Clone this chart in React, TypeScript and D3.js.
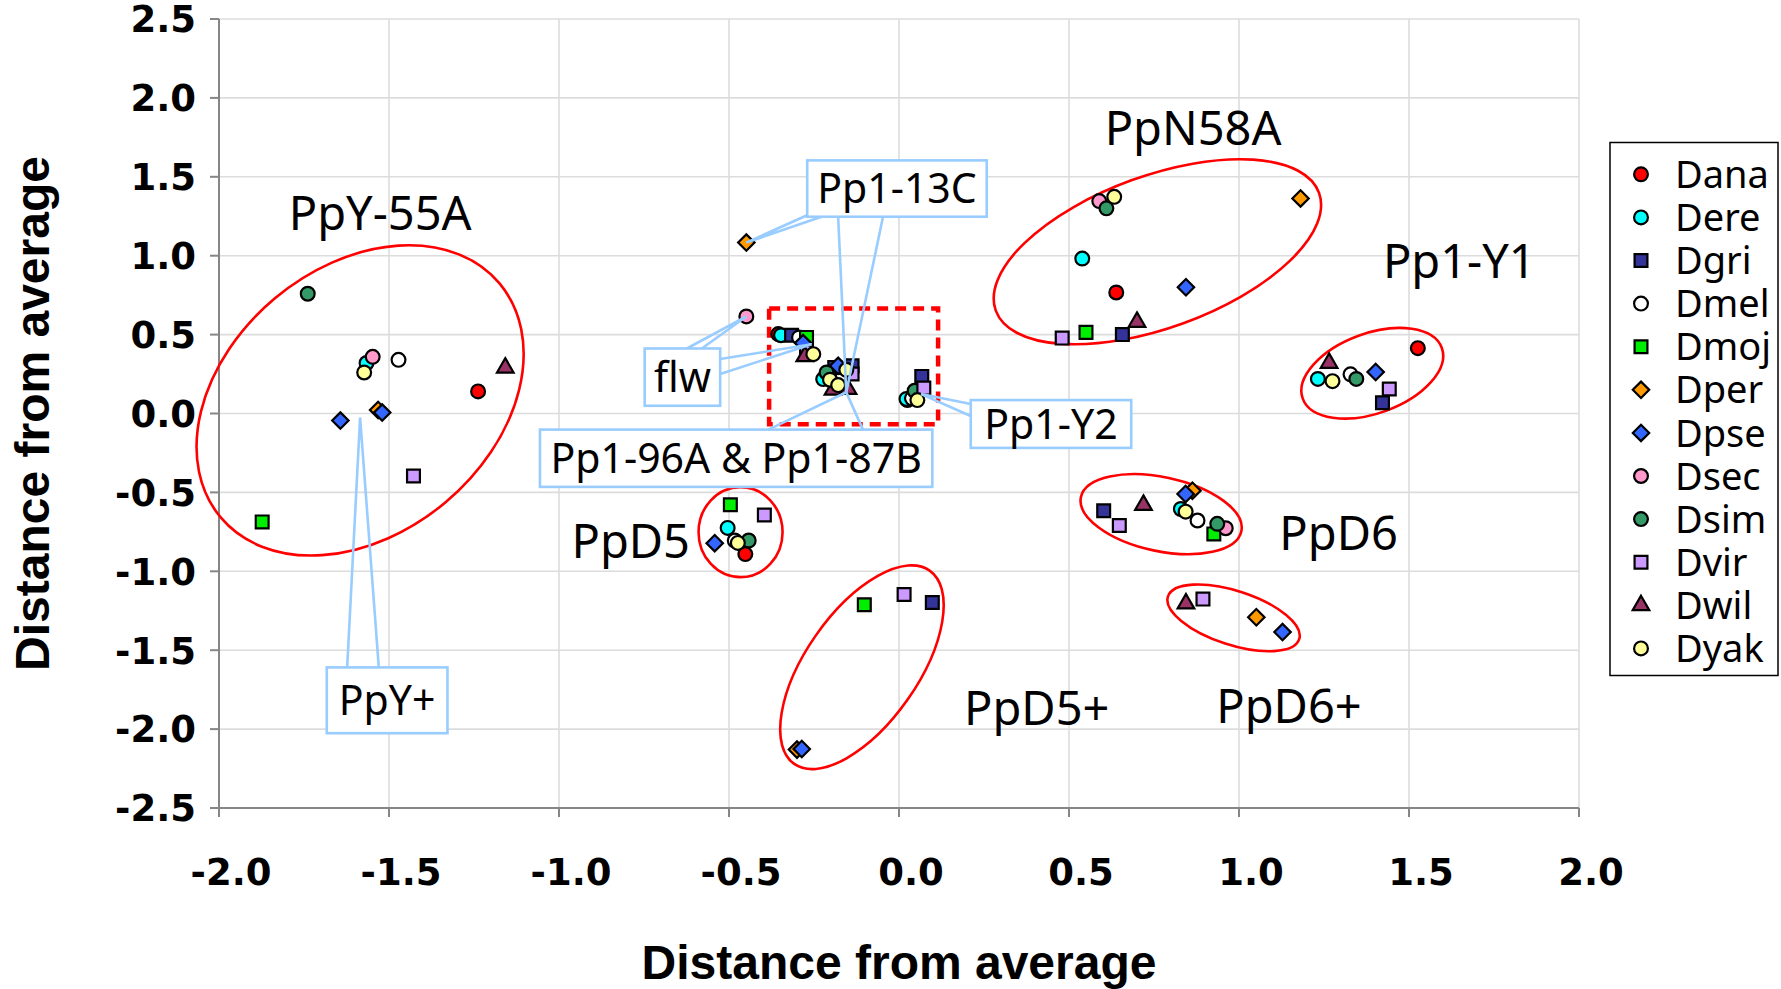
import * as d3 from "d3";

const W = 1781;
const H = 989;
const margin = { top: 19, right: 202, bottom: 181, left: 219 };

const species = ["Dana", "Dere", "Dgri", "Dmel", "Dmoj", "Dper", "Dpse", "Dsec", "Dsim", "Dvir", "Dwil", "Dyak"];
const colors = ["#ff0000", "#00ffff", "#333399", "#ffffff", "#00ee00", "#ff9900", "#3366ff", "#ff99cc", "#339966", "#cc99ff", "#993366", "#ffff99"];
const shapes = ["circle", "circle", "square", "circle", "square", "diamond", "diamond", "circle", "circle", "square", "triangle", "circle"];

// [x, y] distance-from-average for each gene, per species
const dana = [[-1.238, 0.14], [0.639, 0.767], [1.526, 0.414], [-0.452, -0.891], [-0.355, 0.503], [0.025, 0.085]];
const dere = [[-1.566, 0.32], [0.539, 0.982], [1.232, 0.219], [-0.504, -0.725], [-0.347, 0.496], [-0.223, 0.218], [0.022, 0.092], [0.829, -0.605]];
const dgri = [[0.657, 0.5], [1.422, 0.068], [0.602, -0.616], [0.098, -1.198], [-0.316, 0.496], [-0.189, 0.292], [-0.138, 0.302], [0.067, 0.235]];
const dmel = [[-1.472, 0.34], [1.328, 0.248], [-0.483, -0.805], [0.878, -0.678], [-0.294, 0.482], [-0.206, 0.243], [0.038, 0.096]];
const dmoj = [[-1.873, -0.687], [0.55, 0.514], [-0.496, -0.578], [-0.102, -1.212], [0.926, -0.763], [-0.272, 0.482]];
const dper = [[-1.532, 0.022], [1.181, 1.363], [-0.449, 1.083], [0.863, -0.489], [1.051, -1.291], [-0.3, -2.13]];
const dpse = [[-1.643, -0.045], [-1.52, 0.006], [0.844, 0.8], [1.402, 0.263], [-0.542, -0.822], [0.843, -0.51], [1.128, -1.385], [-0.286, -2.126], [-0.282, 0.446], [-0.179, 0.302]];
const dsec = [[-1.548, 0.359], [0.589, 1.346], [-0.449, 0.615], [0.961, -0.727]];
const dsim = [[-1.739, 0.759], [0.61, 1.3], [1.345, 0.219], [-0.442, -0.805], [0.936, -0.699], [-0.213, 0.26], [0.046, 0.144]];
const dvir = [[-1.428, -0.396], [0.48, 0.478], [1.442, 0.155], [-0.396, -0.643], [0.015, -1.147], [0.648, -0.71], [0.894, -1.176], [-0.272, 0.387], [-0.138, 0.25], [0.073, 0.161]];
const dwil = [[-1.158, 0.29], [0.7, 0.58], [1.265, 0.32], [0.719, -0.58], [0.844, -1.205], [-0.277, 0.362], [-0.194, 0.15], [-0.15, 0.155]];
const dyak = [[-1.573, 0.26], [0.633, 1.373], [1.275, 0.205], [-0.474, -0.82], [0.843, -0.622], [-0.252, 0.376], [-0.203, 0.214], [-0.179, 0.18], [-0.155, 0.277], [0.054, 0.085]];
const seriesPoints = [dana, dere, dgri, dmel, dmoj, dper, dpse, dsec, dsim, dvir, dwil, dyak];

const xTicks = [-2, -1.5, -1, -0.5, 0, 0.5, 1, 1.5, 2];
const yTicks = [-2.5, -2, -1.5, -1, -0.5, 0, 0.5, 1, 1.5, 2, 2.5];

// cluster rings: centre in data units, radii in px, rotation in degrees
const rings = [
  { cx: -1.585, cy: 0.083, rx: 182, ry: 133, rot: -40 },
  { cx: 0.76, cy: 1.025, rx: 172, ry: 76, rot: -20 },
  { cx: 1.392, cy: 0.255, rx: 74, ry: 40, rot: -20 },
  { cx: -0.466, cy: -0.752, rx: 42, ry: 45, rot: 0 },
  { cx: -0.109, cy: -1.608, rx: 118, ry: 56, rot: -55 },
  { cx: 0.771, cy: -0.638, rx: 82, ry: 37, rot: 12 },
  { cx: 0.984, cy: -1.295, rx: 69, ry: 27, rot: 18 },
];

const clusterLabels = [
  { text: "PpY-55A", x: -1.526, y: 1.166 },
  { text: "PpN58A", x: 0.865, y: 1.703 },
  { text: "Pp1-Y1", x: 1.648, y: 0.857 },
  { text: "PpD5", x: -0.789, y: -0.917 },
  { text: "PpD6", x: 1.293, y: -0.866 },
  { text: "PpD5+", x: 0.405, y: -1.975 },
  { text: "PpD6+", x: 1.147, y: -1.961 },
];

// callout boxes [x0, y0, x1, y1] and wedges [base1, base2, tip]
const callouts = [
  {
    text: "Pp1-13C", box: [-0.27, 1.604, 0.258, 1.247],
    wedges: [[[-0.272, 1.255], [-0.228, 1.247], [-0.449, 1.083]], [[-0.179, 1.247], [-0.047, 1.247], [-0.155, 0.134]]],
  },
  {
    text: "flw", box: [-0.748, 0.412, -0.526, 0.049],
    wedges: [[[-0.624, 0.412], [-0.58, 0.412], [-0.449, 0.615]], [[-0.526, 0.345], [-0.526, 0.25], [-0.257, 0.439]]],
  },
  {
    text: "Pp1-96A & Pp1-87B", box: [-1.056, -0.102, 0.098, -0.465],
    wedges: [[[-0.384, -0.102], [-0.106, -0.102], [-0.155, 0.134]]],
  },
  {
    text: "Pp1-Y2", box: [0.211, 0.085, 0.683, -0.218],
    wedges: [[[0.211, 0.06], [0.211, -0.016], [0.065, 0.123]]],
  },
  {
    text: "PpY+", box: [-1.683, -1.609, -1.328, -2.026],
    wedges: [[[-1.623, -1.609], [-1.53, -1.609], [-1.585, -0.025]]],
  },
];

const focusBox = [-0.382, 0.665, 0.115, -0.068];

const labelFont = "'Noto Sans', 'DejaVu Sans', sans-serif";

function markerPath(shape: string) {
  if (shape === "circle") return d3.symbol(d3.symbolCircle, 150)();
  if (shape === "triangle") return d3.symbol(d3.symbolTriangle, 120)();
  if (shape === "diamond") return d3.symbol(d3.symbolSquare, 135)();
  return d3.symbol(d3.symbolSquare, 165)();
}

function Marker({ shape, color, x, y }: { shape: string; color: string; x: number; y: number }) {
  const rot = shape === "diamond" ? " rotate(45)" : "";
  return (
    <path
      d={markerPath(shape) || ""}
      transform={`translate(${x},${y})${rot}`}
      fill={color}
      stroke="#000"
      strokeWidth={2.2}
    />
  );
}

export default function App() {
  const x = d3.scaleLinear().domain([-2, 2]).range([margin.left, W - margin.right]);
  const y = d3.scaleLinear().domain([-2.5, 2.5]).range([H - margin.bottom, margin.top]);
  const x0 = x(-2), x1 = x(2), y0 = y(-2.5), y1 = y(2.5);
  // plain hyphen for negatives, as in the original
  const fmt = (v: number) => d3.format(".1f")(v).replace("\u2212", "-");

  return (
    <svg width={W} height={H} style={{ position: "absolute", left: 0, top: 0, background: "#fff" }}>
      {/* grid */}
      {xTicks.map((t) => (
        <line key={"gx" + t} x1={x(t)} x2={x(t)} y1={y1} y2={y0} stroke="#dcdcdc" strokeWidth={1.6} />
      ))}
      {yTicks.map((t) => (
        <line key={"gy" + t} x1={x0} x2={x1} y1={y(t)} y2={y(t)} stroke="#dcdcdc" strokeWidth={1.6} />
      ))}
      {/* axes */}
      <line x1={x0} x2={x0} y1={y1} y2={y0} stroke="#868686" strokeWidth={2} />
      <line x1={x0} x2={x1} y1={y0} y2={y0} stroke="#868686" strokeWidth={2} />
      {yTicks.map((t) => (
        <g key={"ty" + t}>
          <line x1={x0 - 9} x2={x0} y1={y(t)} y2={y(t)} stroke="#868686" strokeWidth={2} />
          <text x={x0 - 23} y={y(t)} dy="0.36em" textAnchor="end" fontFamily="'DejaVu Sans', sans-serif" fontWeight="bold" fontSize={37}>
            {fmt(t)}
          </text>
        </g>
      ))}
      {xTicks.map((t) => (
        <g key={"tx" + t}>
          <line x1={x(t)} x2={x(t)} y1={y0} y2={y0 + 9} stroke="#868686" strokeWidth={2} />
          <text x={x(t) + 12} y={885} textAnchor="middle" fontFamily="'DejaVu Sans', sans-serif" fontWeight="bold" fontSize={37}>
            {fmt(t)}
          </text>
        </g>
      ))}
      <text x={(x0 + x1) / 2} y={979} textAnchor="middle" fontFamily="'Liberation Sans', Arial, sans-serif" fontWeight="bold" fontSize={48}>
        Distance from average
      </text>
      <text
        transform={`translate(49,${(y0 + y1) / 2}) rotate(-90)`}
        textAnchor="middle"
        fontFamily="'Liberation Sans', Arial, sans-serif"
        fontWeight="bold"
        fontSize={48}
      >
        Distance from average
      </text>

      {/* cluster rings */}
      {rings.map((r, i) => (
        <ellipse
          key={"r" + i}
          cx={0}
          cy={0}
          rx={r.rx}
          ry={r.ry}
          transform={`translate(${x(r.cx)},${y(r.cy)}) rotate(${r.rot})`}
          fill="none"
          stroke="#ff0000"
          strokeWidth={2.6}
        />
      ))}
      <rect
        x={x(focusBox[0])}
        y={y(focusBox[1])}
        width={x(focusBox[2]) - x(focusBox[0])}
        height={y(focusBox[3]) - y(focusBox[1])}
        fill="none"
        stroke="#ff0000"
        strokeWidth={4.5}
        strokeDasharray="11 7"
      />

      {/* points */}
      {seriesPoints.map((pts, si) =>
        pts.map((p, pi) => (
          <Marker key={species[si] + pi} shape={shapes[si]} color={colors[si]} x={x(p[0])} y={y(p[1])} />
        ))
      )}

      {/* callouts */}
      {callouts.map((c) => (
        <g key={c.text}>
          {c.wedges.map((w, wi) => (
            <polyline
              key={wi}
              points={[w[0], w[2], w[1]].map((p) => `${x(p[0])},${y(p[1])}`).join(" ")}
              fill="none"
              stroke="#99ccff"
              strokeWidth={2.6}
            />
          ))}
          <rect
            x={x(c.box[0])}
            y={y(c.box[1])}
            width={x(c.box[2]) - x(c.box[0])}
            height={y(c.box[3]) - y(c.box[1])}
            fill="#fff"
            stroke="#99ccff"
            strokeWidth={2.6}
          />
          <text
            x={(x(c.box[0]) + x(c.box[2])) / 2}
            y={(y(c.box[1]) + y(c.box[3])) / 2}
            dy="0.36em"
            textAnchor="middle"
            fontFamily={labelFont}
            fontSize={41}
          >
            {c.text}
          </text>
        </g>
      ))}

      {/* cluster names */}
      {clusterLabels.map((l) => (
        <text key={l.text} x={x(l.x)} y={y(l.y)} textAnchor="middle" fontFamily={labelFont} fontSize={47}>
          {l.text}
        </text>
      ))}

      {/* legend */}
      <rect x={1610} y={142.5} width={168} height={533} fill="#fff" stroke="#000" strokeWidth={1.5} />
      {species.map((s, i) => (
        <g key={"lg" + s} transform={`translate(0,${174.3 + i * 43.1})`}>
          <Marker shape={shapes[i]} color={colors[i]} x={1641} y={0} />
          <text x={1675} y={0} dy="0.36em" fontFamily={labelFont} fontSize={38}>
            {s}
          </text>
        </g>
      ))}
    </svg>
  );
}
